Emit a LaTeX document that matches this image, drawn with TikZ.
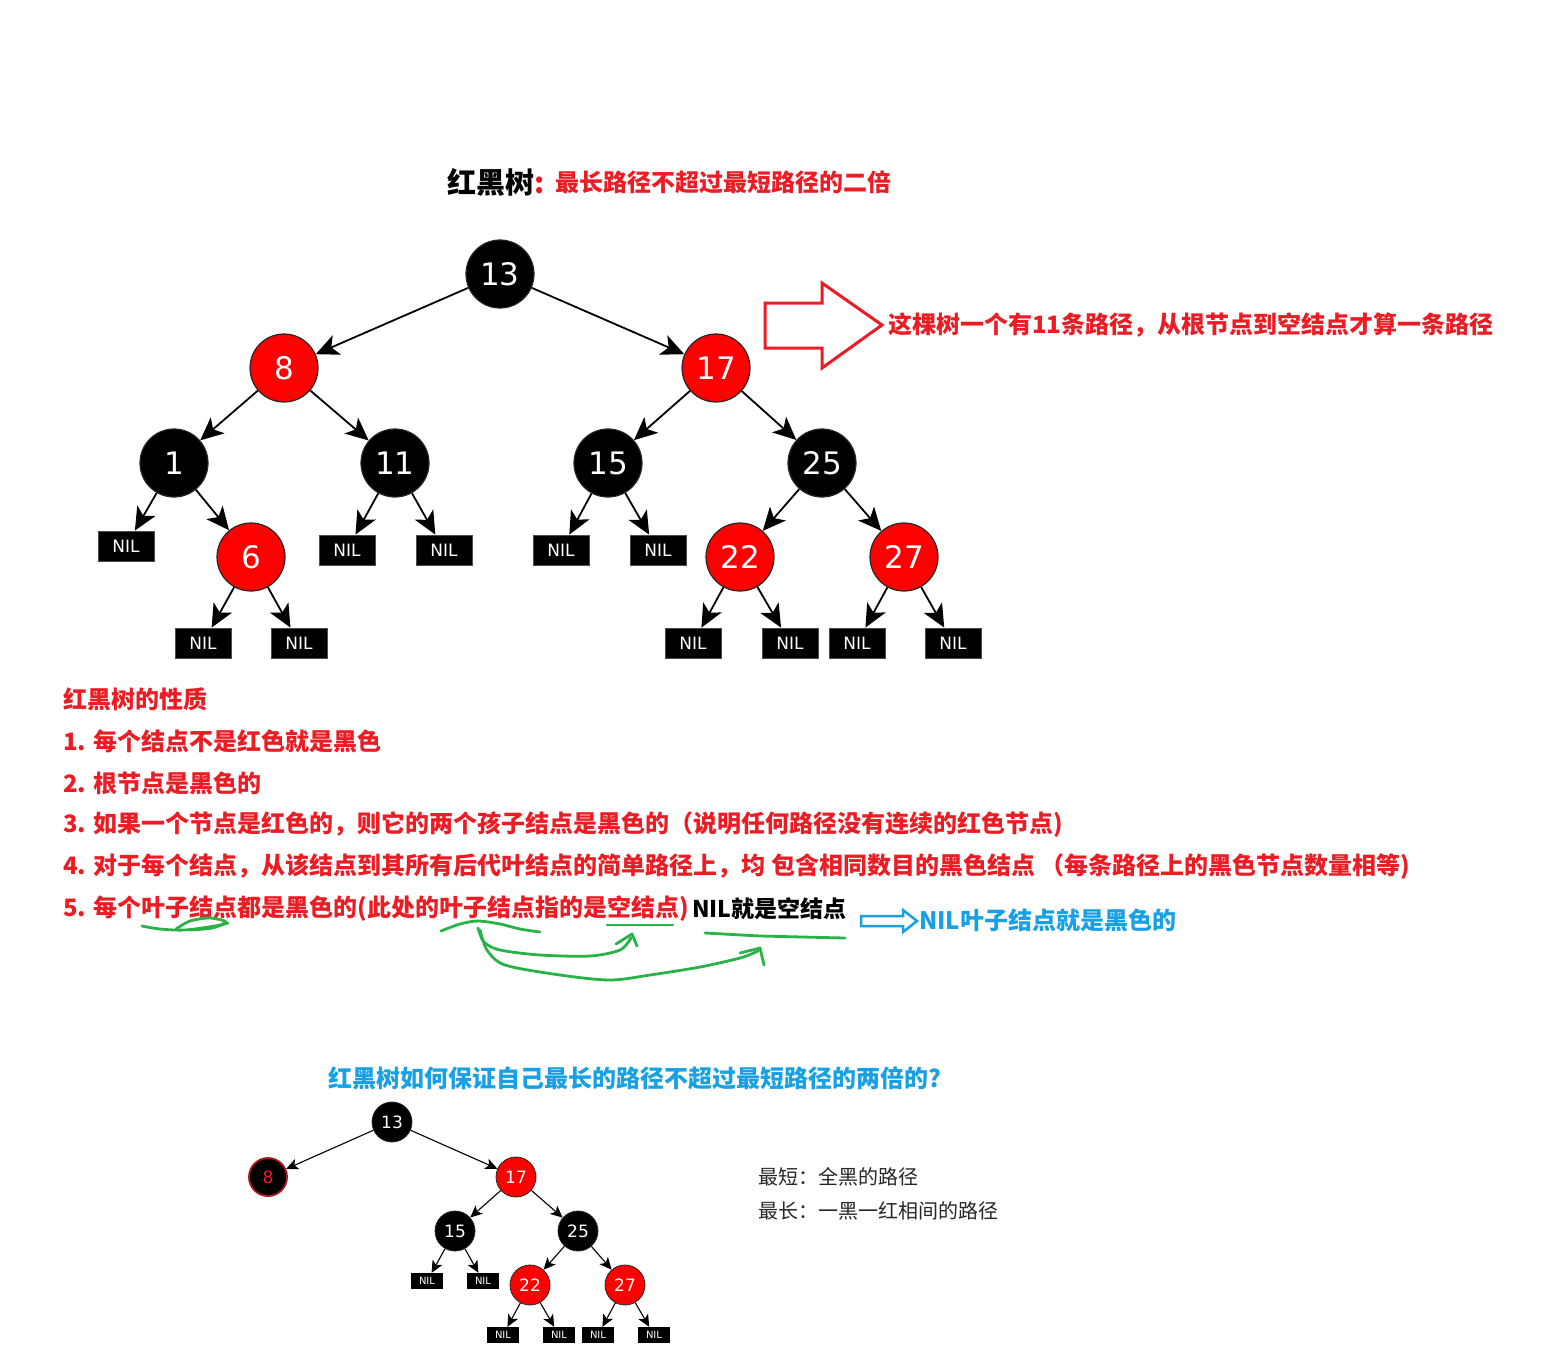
\documentclass[tikz,border=0pt]{standalone}
\usepackage{fontspec}
\usetikzlibrary{arrows.meta}
\newfontfamily\cjk{Noto Sans CJK SC}
\newfontfamily\numfont{DejaVu Sans}
\definecolor{rbred}{RGB}{236,28,36}
\definecolor{nodered}{RGB}{255,0,0}
\definecolor{tipblue}{RGB}{24,160,228}
\definecolor{pengreen}{RGB}{40,178,72}
\tikzset{
  rbnode/.style={circle, minimum size=68pt, inner sep=0pt, draw=black!85, line width=1.2pt,
    text=white, font=\numfont\fontsize{31}{31}\selectfont},
  blacknode/.style={rbnode, fill=black},
  rednode/.style={rbnode, fill=nodered},
  nilbox/.style={rectangle, fill=black, draw=black!70, line width=0.8pt, minimum width=56pt,
    minimum height=30pt, inner sep=0pt, text=white, font=\numfont\fontsize{17}{17}\selectfont},
  treeedge/.style={-{Stealth[length=23pt,width=21pt,inset=6pt]}, line width=1.8pt},
  smallnode/.style={circle, minimum size=40pt, inner sep=0pt, draw=black!85, line width=0.8pt,
    text=white, font=\numfont\fontsize{17}{17}\selectfont},
  smallblack/.style={smallnode, fill=black},
  smallred/.style={smallnode, fill=nodered},
  smallnil/.style={rectangle, fill=black, minimum width=32pt, minimum height=16pt, inner sep=0pt,
    text=white, font=\numfont\fontsize{10}{10}\selectfont},
  smalledge/.style={-{Stealth[length=12pt,width=11pt,inset=3pt]}, line width=1.1pt},
  redtext/.style={anchor=west, inner sep=0pt, text=rbred, font=\cjk\bfseries\fontsize{24}{24}\selectfont},
  bluetext/.style={redtext, text=tipblue},
  plaintext/.style={anchor=west, inner sep=0pt, text=black!85, font=\cjk\fontsize{20}{20}\selectfont},
  pen/.style={pengreen, line width=2.8pt, line cap=round, line join=round}
}
\begin{document}
\begin{tikzpicture}[x=1pt,y=-1pt]
\useasboundingbox (0,0) rectangle (1553,1353);

% title
\node[anchor=west, inner sep=0pt, font=\cjk\bfseries\fontsize{29}{29}\selectfont] (title) at (447,182) {红黑树\textcolor{rbred}{:}};
\node[redtext] (subtitle) at (555,182) {最长路径不超过最短路径的二倍};

% big tree
\node[blacknode] (n13) at (500,274) {13};
\node[rednode]   (n8)  at (284,368) {8};
\node[rednode]   (n17) at (716,368) {17};
\node[blacknode] (n1)  at (174,463) {1};
\node[blacknode] (n11) at (395,463) {11};
\node[blacknode] (n15) at (608,463) {15};
\node[blacknode] (n25) at (822,463) {25};
\node[rednode]   (n6)  at (251,557) {6};
\node[rednode]   (n22) at (740,557) {22};
\node[rednode]   (n27) at (904,557) {27};
\node[nilbox] (nilA) at (126,546) {NIL};
\node[nilbox] (nilB) at (347,550) {NIL};
\node[nilbox] (nilC) at (444,550) {NIL};
\node[nilbox] (nilD) at (561,550) {NIL};
\node[nilbox] (nilE) at (658,550) {NIL};
\node[nilbox] (nilF) at (203,643) {NIL};
\node[nilbox] (nilG) at (299,643) {NIL};
\node[nilbox] (nilH) at (693,643) {NIL};
\node[nilbox] (nilI) at (790,643) {NIL};
\node[nilbox] (nilJ) at (857,643) {NIL};
\node[nilbox] (nilK) at (953,643) {NIL};
\foreach \a/\b in {n13/n8, n13/n17, n8/n1, n8/n11, n17/n15, n17/n25, n1/nilA, n1/n6,
  n11/nilB, n11/nilC, n15/nilD, n15/nilE, n25/n22, n25/n27, n6/nilF, n6/nilG,
  n22/nilH, n22/nilI, n27/nilJ, n27/nilK}
  \draw[treeedge] (\a) -- (\b);

% hollow arrow and path count
\draw[rbred, line width=3pt, line join=miter]
  (765,303) -- (822,303) -- (822,283) -- (882,325) -- (822,368) -- (822,348) -- (765,348) -- cycle;
\node[redtext] (pathcount) at (888,325) {这棵树一个有11条路径，从根节点到空结点才算一条路径};

% properties
\node[redtext] (prop0) at (63,699) {红黑树的性质};
\node[redtext] (prop1) at (63,741) {1. 每个结点不是红色就是黑色};
\node[redtext] (prop2) at (63,783) {2. 根节点是黑色的};
\node[redtext] (prop3) at (63,825) {3. 如果一个节点是红色的，则它的两个孩子结点是黑色的（说明任何路径没有连续的红色节点)};
\node[redtext] (prop4) at (63,867) {4. 对于每个结点，从该结点到其所有后代叶结点的简单路径上，均 包含相同数目的黑色结点 （每条路径上的黑色节点数量相等)};
\node[redtext] (prop5) at (63,909) {5. 每个叶子结点都是黑色的(此处的叶子结点指的是空结点)};
\node[redtext, text=black, font=\cjk\bfseries\fontsize{23}{23}\selectfont] (nilnote) at ([xshift=3pt]prop5.east) {NIL就是空结点};
\draw[tipblue, line width=2.5pt]
  (861,916) -- (903,916) -- (903,910) -- (917,921) -- (903,932) -- (903,926) -- (861,926) -- cycle;
\node[bluetext] (nilleaf) at (919,920) {NIL叶子结点就是黑色的};

% green pen marks
\draw[pen] plot[smooth] coordinates {(142,926) (160,929) (185,930) (215,926) (228,923)};
\draw[pen] plot[smooth] coordinates {(176,929) (190,921) (210,918) (226,922) (212,928) (190,930)};
\draw[pen] plot[smooth] coordinates {(441,931) (460,924) (478,921) (500,924) (520,929) (540,932)};
\draw[pen] (607,925) -- (673,925);
\draw[pen] (705,933) -- (760,936) -- (845,938);
\draw[pen] plot[smooth] coordinates {(478,928) (484,942) (500,950) (540,955) (590,956) (620,950) (631,938)};
\draw[pen] (616,944) -- (632,934) -- (637,946);
\draw[pen] plot[smooth] coordinates {(480,930) (487,950) (505,965) (560,975) (610,980) (650,975) (700,967) (740,958) (758,951)};
\draw[pen] (740,953) -- (760,948) -- (764,965);

% second question
\node[bluetext] (question) at (328,1078) {红黑树如何保证自己最长的路径不超过最短路径的两倍的?};

% small tree
\node[smallblack] (s13) at (392,1122) {13};
\node[smallblack, draw=rbred!75!black, line width=1.8pt, text=rbred, minimum size=38pt] (s8) at (268,1177) {8};
\node[smallred]   (s17) at (516,1177) {17};
\node[smallblack] (s15) at (455,1231) {15};
\node[smallblack] (s25) at (578,1231) {25};
\node[smallred]   (s22) at (530,1285) {22};
\node[smallred]   (s27) at (625,1285) {27};
\node[smallnil] (snilA) at (427,1281) {NIL};
\node[smallnil] (snilB) at (483,1281) {NIL};
\node[smallnil] (snilC) at (503,1335) {NIL};
\node[smallnil] (snilD) at (559,1335) {NIL};
\node[smallnil] (snilE) at (598,1335) {NIL};
\node[smallnil] (snilF) at (654,1335) {NIL};
\foreach \a/\b in {s13/s8, s13/s17, s17/s15, s17/s25, s15/snilA, s15/snilB,
  s25/s22, s25/s27, s22/snilC, s22/snilD, s27/snilE, s27/snilF}
  \draw[smalledge] (\a) -- (\b);

% shortest / longest
\node[plaintext] (shortest) at (758,1177) {最短：全黑的路径};
\node[plaintext] (longest)  at (758,1211) {最长：一黑一红相间的路径};
\end{tikzpicture}
\end{document}
